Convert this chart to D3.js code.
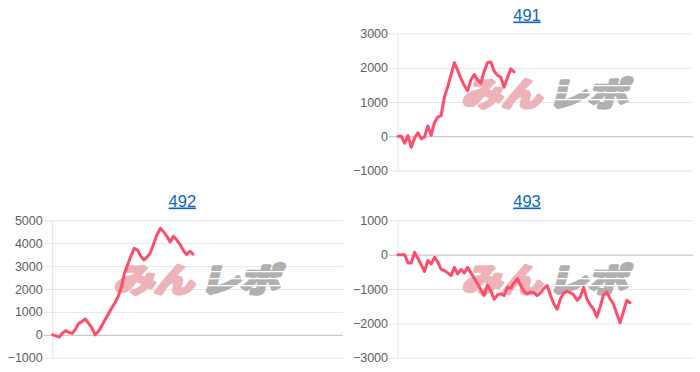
<!DOCTYPE html>
<html>
<head>
<meta charset="utf-8">
<script src="https://cdn.jsdelivr.net/npm/d3@7"></script>
<style>
  html, body { margin: 0; padding: 0; background: #fff; }
  svg { display: block; }
</style>
</head>
<body>
<svg id="chart" width="700" height="372"></svg>
<script>
// ---------------- DATA ----------------
const titles = ["491", "492", "493"];
const slotCount = 90; // number of x slots on each chart

const values491 = [0, 0, -200, 20, -320, -50, 100, -70, -20, 300, 30, 400, 560, 600, 1150,
  1450, 1800, 2150, 1920, 1680, 1480, 1330, 1650, 1800, 1650, 1550, 1900, 2150, 2170, 1900,
  1780, 1720, 1430, 1700, 1970, 1880];

const values492 = [0, -50, -100, 80, 180, 100, 60, 250, 500, 580, 690, 500, 300, 0, 150,
  380, 650, 900, 1150, 1380, 1650, 2050, 2700, 3070, 3450, 3780, 3700, 3430, 3270, 3400,
  3600, 4000, 4380, 4650, 4500, 4300, 4050, 4300, 4150, 3950, 3700, 3500, 3650, 3520];

const values493 = [0, 0, 0, -240, -240, 70, -110, -300, -490, -170, -270, -80, -220, -430, -460,
  -530, -610, -370, -560, -430, -530, -370, -530, -690, -850, -1020, -1190, -880, -1050, -1300,
  -1170, -1140, -1190, -950, -980, -820, -700, -900, -1070, -1140, -1090, -1110, -1190, -1110, -980,
  -900, -1190, -1430, -1590, -1290, -1110, -1070, -1110, -1170, -1330, -1230, -950, -1290, -1460, -1590,
  -1810, -1520, -1170, -1090, -1290, -1430, -1720, -1980, -1670, -1330, -1400];

const ticks491 = [-1000, 0, 1000, 2000, 3000];
const ticks492 = [-1000, 0, 1000, 2000, 3000, 4000, 5000];
const ticks493 = [-3000, -2000, -1000, 0, 1000];

// ---------------- LAYOUT ----------------
const panels = [
  { title: titles[0], values: values491, ticks: ticks491, x0: 398, x1: 693, y0: 33.5, y1: 170.5, top: 0, tdx: 0 },
  { title: titles[1], values: values492, ticks: ticks492, x0: 52.7, x1: 343, y0: 220.3, y1: 357.7, top: 186, tdx: 3 },
  { title: titles[2], values: values493, ticks: ticks493, x0: 398, x1: 693, y0: 220.3, y1: 357.7, top: 186, tdx: 0 }
];

const svg = d3.select("#chart");
const lineColor = "#ff4d6b";

panels.forEach(p => {
  const g = svg.append("g");
  const w = p.x1 - p.x0;
  const x = d3.scaleLinear().domain([0, slotCount - 1]).range([p.x0, p.x1]);
  const y = d3.scaleLinear().domain(d3.extent(p.ticks)).range([p.y1, p.y0]);

  // gridlines + tick labels via axis
  const axis = d3.axisLeft(y).tickValues(p.ticks).tickSize(9).tickPadding(2)
    .tickFormat(d3.format("d"));
  const ag = g.append("g").attr("transform", `translate(${p.x0},0)`).call(axis);
  ag.select(".domain").remove();
  ag.selectAll(".tick line")
    .attr("x1", -9).attr("x2", w)
    .attr("stroke", d => d === 0 ? "#bdbdbd" : "#e6e6e6")
    .attr("stroke-width", 1);
  ag.selectAll(".tick text")
    .attr("x", -10)
    .attr("fill", "#606060")
    .style("font-family", "'Liberation Sans', Arial, sans-serif")
    .style("font-size", "12.5px");

  // left axis line
  g.append("line")
    .attr("x1", p.x0).attr("x2", p.x0)
    .attr("y1", p.y0).attr("y2", p.y1)
    .attr("stroke", "#e6e6e6").attr("stroke-width", 1);

  // watermark
  const cx = (p.x0 + p.x1) / 2;
  const wy = p.top + 106;
  const wm = g.append("g").attr("transform", `translate(${cx},${wy}) skewX(-14)`);
  wm.append("text")
    .attr("x", -84).attr("y", 0)
    .attr("textLength", 80).attr("lengthAdjust", "spacingAndGlyphs")
    .attr("fill", "#eeb3b9").attr("stroke", "#eeb3b9").attr("stroke-width", 3.5)
    .attr("stroke-linejoin", "round")
    .style("font-family", "'Noto Sans CJK JP', sans-serif")
    .style("font-weight", 700)
    .style("font-size", "33px")
    .text("みん");
  wm.append("text")
    .attr("x", 2).attr("y", 0)
    .attr("textLength", 80).attr("lengthAdjust", "spacingAndGlyphs")
    .attr("fill", "#b0b0b0").attr("stroke", "#b0b0b0").attr("stroke-width", 3.5)
    .attr("stroke-linejoin", "round")
    .style("font-family", "'Noto Sans CJK JP', sans-serif")
    .style("font-weight", 700)
    .style("font-size", "33px")
    .text("レポ");
  // speed-line cuts through the watermark
  [-21, -14, -7].forEach(dy => {
    wm.append("rect").attr("x", -2).attr("y", dy).attr("width", 90).attr("height", 1.3).attr("fill", "#fff");
  });

  // line
  const line = d3.line().x((d, i) => x(i)).y(d => y(d));
  g.append("path")
    .datum(p.values)
    .attr("d", line)
    .attr("fill", "none")
    .attr("stroke", lineColor)
    .attr("stroke-width", 3)
    .attr("stroke-linejoin", "round")
    .attr("stroke-linecap", "round");

  // title
  g.append("text")
    .attr("x", cx - 18.5 + p.tdx).attr("y", p.top + 20.5)
    .attr("text-anchor", "middle")
    .attr("fill", "#0b66c8")
    .style("font-family", "'Liberation Sans', Arial, sans-serif")
    .style("font-size", "16.5px")
    .style("text-decoration", "underline")
    .text(p.title);
});
</script>
</body>
</html>
